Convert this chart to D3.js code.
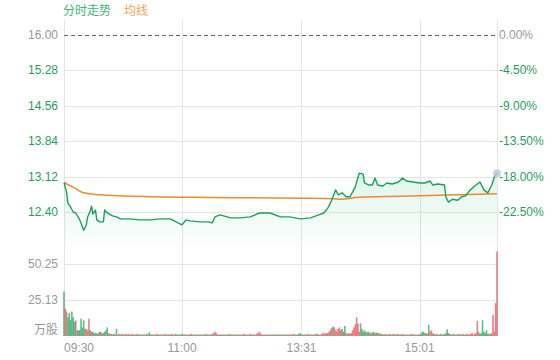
<!DOCTYPE html>
<html>
<head>
<meta charset="utf-8">
<script src="https://cdn.jsdelivr.net/npm/d3@7"></script>
<style>
  body { margin: 0; background: #fff; }
  svg { display: block; font-family: "Liberation Sans", Arial, "Noto Sans CJK SC", sans-serif; }
</style>
</head>
<body>
<svg id="chart" width="560" height="360"></svg>
<script>
// trading minutes 09:30-12:00, 13:00-16:00 -> index 0..330
const prevClose = 16.00;
const priceTicks = [16.00, 15.28, 14.56, 13.84, 13.12, 12.40];
const volTicks = [50.25, 25.13];
const timeTicks = [0, 90, 181, 271];
const timeLabels = ['09:30', '11:00', '13:31', '15:01'];

// price line (minute index, price)
const priceMin = [0, 2, 3, 5, 7, 9, 12, 15, 17, 18, 20, 21, 22, 24, 25, 27, 30, 31, 33, 37, 40, 43, 50, 58,
  66, 73, 81, 87, 90, 93, 96, 104, 110, 113, 115, 119, 127, 134, 142, 149, 157, 165, 172, 180,
  188, 194, 198, 201, 203, 205, 207, 209, 212, 215, 218, 222, 225, 228, 229, 232, 235, 237, 239,
  243, 246, 250, 255, 258, 261, 266, 271, 275, 279, 281, 285, 290, 291, 293, 296, 300, 303, 306,
  309, 313, 317, 320, 323, 326, 328, 330];
const prices = [13.00, 12.80, 12.58, 12.50, 12.40, 12.38, 12.24, 12.03, 12.14, 12.30, 12.42, 12.52, 12.36, 12.44, 12.24, 12.20, 12.20, 12.44, 12.38, 12.32, 12.30, 12.26, 12.26, 12.24,
  12.24, 12.26, 12.26, 12.18, 12.14, 12.24, 12.22, 12.20, 12.20, 12.18, 12.30, 12.34, 12.28, 12.28, 12.30, 12.38, 12.38, 12.30, 12.30, 12.26,
  12.28, 12.34, 12.38, 12.48, 12.58, 12.71, 12.85, 12.75, 12.79, 12.71, 12.71, 12.91, 13.19, 13.17, 12.99, 12.95, 12.95, 13.09, 12.95,
  12.93, 12.99, 12.97, 13.01, 13.09, 13.03, 13.01, 12.99, 12.99, 13.03, 12.95, 12.97, 12.95, 12.71, 12.60, 12.66, 12.64, 12.71, 12.73,
  12.83, 12.93, 13.01, 12.85, 12.79, 12.95, 13.11, 13.19];

// average price line
const avgMin = [0, 8, 15, 27, 66, 96, 180, 206, 210, 225, 271, 330];
const avgPrices = [13.00, 12.89, 12.79, 12.75, 12.71, 12.70, 12.68, 12.67, 12.66, 12.70, 12.73, 12.77];

// volume per minute (万股), r = up, g = down
const volumes = [
  31, 19, 17, 13, 16, 11, 17, 13, 10, 11,
  4, 4, 4, 12, 6, 11, 5, 5, 4, 12,
  4, 3, 3, 2, 2, 2, 1.5, 3, 3, 2,
  2, 3, 4, 6, 2, 1.5, 1.5, 1, 1.5, 1,
  5, 1, 1.5, 1, 1.5, 1, 1, 1.5, 1, 1.5,
  1, 1, 1.5, 1, 1, 1, 1.5, 1, 1, 1,
  1, 1, 1, 1.5, 1, 2.5, 1, 1, 1, 1,
  1, 1.5, 1, 1, 1, 1, 1, 1.5, 1, 1,
  1, 1, 1.5, 1, 1, 1.5, 1, 1, 1, 1,
  1.5, 1, 1, 1, 1, 1, 1, 1.5, 1, 1,
  1, 1, 1, 1, 1, 1, 1, 1, 1.5, 1,
  1, 1, 1, 1.5, 2, 3, 2, 1, 1, 1,
  1, 1, 1, 1, 1, 1, 1.5, 1, 1, 1,
  1, 1, 1, 1, 1, 1, 1, 1.5, 1, 1,
  1, 1, 1.5, 1, 1, 1, 1, 1.5, 2, 3,
  1.5, 1, 1, 1, 1, 1, 1, 1, 1, 1,
  1, 1, 1, 1, 1, 1, 1, 1, 1, 1,
  1, 1, 1, 1, 1, 1.5, 1, 1, 1, 1.5,
  2, 1, 1, 1, 1, 1, 1.5, 1, 1, 1,
  1, 1, 1.5, 1.5, 1, 1, 1, 2, 1.5, 2,
  2, 2, 3, 4, 5.5, 6.5, 6, 4, 3, 5,
  6, 4, 5, 3, 7, 2, 1.5, 2, 1.5, 2,
  4, 6, 8, 13, 8.8, 3, 8.8, 5, 3, 4,
  3, 2.5, 3, 2, 2.5, 2, 3, 2, 2.5, 2,
  2, 1.5, 1.5, 1, 1, 1.5, 1, 1, 1.5, 1,
  1, 1.5, 1, 1, 1.5, 1, 1, 1, 1.5, 1,
  1, 1, 1, 1, 1, 1.5, 1, 1, 1, 1,
  1, 1, 1.5, 3, 3, 2, 2, 1.5, 7.7, 3,
  4, 2, 1.5, 1, 1.5, 1, 1, 1.5, 1, 1,
  1.5, 2, 4.7, 2, 1.5, 1, 1, 1.5, 1, 1,
  1, 1.5, 1, 1, 1.5, 1, 1, 1.5, 1, 1,
  1.5, 2, 1, 1.5, 2, 10.5, 3, 1.5, 2, 11,
  3, 2, 4, 1.5, 1.5, 1.5, 2, 14.7, 3, 23,
  59];
const volDirs = [
  'grrggggggr', 'rgggggrrrr', 'ggrggrggrg', 'rgggrgrggr', 'grrgrrgrrr',
  'grrgrgrgrg', 'rgrgrggrgr', 'rrgrrgrrgr', 'grrgrrggrg', 'grgrgrgrgr',
  'grgrgrgrrg', 'rggrrrrgrg', 'rgrgrgrgrg', 'rgrgrgrrgr', 'grrgrgrrrr',
  'rgrgrgrgrg', 'rgrgrgrgrg', 'rgrgrrgrgg', 'grgrgrrgrg', 'rgrrrgrrrr',
  'rgrrrgrrrr', 'rgrggrrgrr', 'rrrrrrgggg', 'rggrgrgrgr', 'grgrgrgrrg',
  'rrgrrgrgrg', 'rgrgrrgrgr', 'grgggrgrgr', 'rrgrrgrgrg', 'grggrgrgrg',
  'rgrgrgrrgr', 'rrrrrrrggg', 'ggggrgrrrr', 'r'].join('');

const C = {
  green: '#17a35e', greenText: '#1f9e62', orange: '#f08a2c',
  grid: '#e5e5e5', label: '#999'
};

const svg = d3.select('#chart');
const plotLeft = 64, plotRight = 497, plotTop = 20, priceBottom = 248, volBottom = 336;

const x = d3.scaleLinear().domain([0, 330]).range([plotLeft, plotRight]);
const y = d3.scaleLinear().domain([12.40, prevClose]).range([212, 35]);
const vy = d3.scaleLinear().domain([0, 25.13]).range([volBottom, 300]);

// gradient for price area
const grad = svg.append('defs').append('linearGradient')
  .attr('id', 'fill').attr('gradientUnits', 'userSpaceOnUse')
  .attr('x1', 0).attr('y1', 170).attr('x2', 0).attr('y2', priceBottom);
grad.append('stop').attr('offset', 0).attr('stop-color', '#2fc07a').attr('stop-opacity', 0.16);
grad.append('stop').attr('offset', 1).attr('stop-color', '#2fc07a').attr('stop-opacity', 0.01);

// grid
svg.append('g').selectAll('line')
  .data(priceTicks.filter(d => d !== prevClose))
  .join('line')
  .attr('x1', plotLeft).attr('x2', plotRight)
  .attr('y1', d => Math.round(y(d)) + 0.5).attr('y2', d => Math.round(y(d)) + 0.5)
  .attr('stroke', C.grid);

svg.append('g').selectAll('line')
  .data(volTicks)
  .join('line')
  .attr('x1', plotLeft).attr('x2', plotRight)
  .attr('y1', d => Math.round(vy(d)) + 0.5).attr('y2', d => Math.round(vy(d)) + 0.5)
  .attr('stroke', C.grid);

svg.append('g').selectAll('line')
  .data(timeTicks.concat([330]))
  .join('line')
  .attr('x1', d => Math.round(x(d)) + 0.5).attr('x2', d => Math.round(x(d)) + 0.5)
  .attr('y1', plotTop).attr('y2', volBottom)
  .attr('stroke', C.grid);

// prev close dashed line
svg.append('line')
  .attr('x1', plotLeft).attr('x2', plotRight)
  .attr('y1', Math.round(y(prevClose)) + 0.5).attr('y2', Math.round(y(prevClose)) + 0.5)
  .attr('stroke', '#666').attr('stroke-dasharray', '4,3');

const pts = priceMin.map((m, i) => [m, prices[i]]);
const avgPts = avgMin.map((m, i) => [m, avgPrices[i]]);

svg.append('path')
  .datum(pts)
  .attr('fill', 'url(#fill)')
  .attr('d', d3.area().x(d => x(d[0])).y0(priceBottom).y1(d => y(d[1])));

svg.append('path')
  .datum(avgPts)
  .attr('fill', 'none').attr('stroke', C.orange).attr('stroke-width', 1.5)
  .attr('d', d3.line().curve(d3.curveMonotoneX).x(d => x(d[0])).y(d => y(d[1])));

svg.append('path')
  .datum(pts)
  .attr('fill', 'none').attr('stroke', C.green).attr('stroke-width', 1.4)
  .attr('stroke-linejoin', 'round')
  .attr('d', d3.line().x(d => x(d[0])).y(d => y(d[1])));

const last = pts[pts.length - 1];
svg.append('circle')
  .attr('cx', x(last[0])).attr('cy', y(last[1])).attr('r', 4)
  .attr('fill', '#b9c7e2').attr('opacity', 0.8);

// volume bars
svg.append('g').selectAll('rect')
  .data(volumes)
  .join('rect')
  .attr('x', (d, i) => x(i) - 0.8)
  .attr('width', 1.6)
  .attr('y', d => vy(d))
  .attr('height', d => volBottom - vy(d))
  .attr('fill', (d, i) => volDirs[i] === 'g' ? '#1bae62' : '#f0525a')
  .attr('opacity', 0.75);

// left price labels
svg.append('g').selectAll('text')
  .data(priceTicks)
  .join('text')
  .attr('x', 58).attr('y', d => y(d) + 4)
  .attr('text-anchor', 'end').attr('font-size', 12)
  .attr('fill', d => d === prevClose ? C.label : C.greenText)
  .text(d => d.toFixed(2));

// right percent labels
svg.append('g').selectAll('text')
  .data(priceTicks)
  .join('text')
  .attr('x', 499).attr('y', d => y(d) + 4)
  .attr('font-size', 12)
  .attr('fill', d => d === prevClose ? C.label : C.greenText)
  .text(d => ((d - prevClose) / prevClose * 100).toFixed(2) + '%');

// volume labels
svg.append('g').selectAll('text')
  .data(volTicks)
  .join('text')
  .attr('x', 58).attr('y', d => vy(d) + 4)
  .attr('text-anchor', 'end').attr('font-size', 12).attr('fill', C.label)
  .text(d => d.toFixed(2));
svg.append('text')
  .attr('x', 58).attr('y', volBottom - 2)
  .attr('text-anchor', 'end').attr('font-size', 12).attr('fill', C.label)
  .attr('font-family', '"Noto Sans CJK SC", sans-serif')
  .text('万股');

// time labels
svg.append('g').selectAll('text')
  .data(timeTicks)
  .join('text')
  .attr('x', d => x(d)).attr('y', 352)
  .attr('text-anchor', (d, i) => i === 0 ? 'start' : 'middle')
  .attr('font-size', 12).attr('fill', C.label)
  .text((d, i) => timeLabels[i]);

// legend
const legend = svg.append('g').attr('font-size', 12)
  .attr('font-family', '"Noto Sans CJK SC", sans-serif');
legend.append('text').attr('x', 63).attr('y', 15).attr('fill', '#3db77c').text('分时走势');
legend.append('text').attr('x', 124).attr('y', 15).attr('fill', '#f4a35a').text('均线');
</script>
</body>
</html>
